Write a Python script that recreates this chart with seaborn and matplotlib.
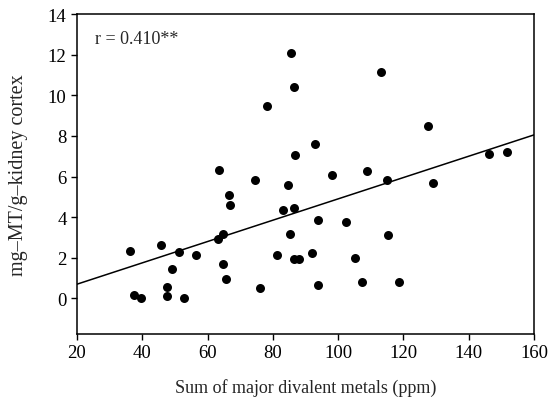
import seaborn as sns
import matplotlib
matplotlib.use("Agg")
import matplotlib.pyplot as plt
import pandas as pd

sns.set_style("ticks")
plt.rcParams['font.family'] = ['Liberation Serif', 'DejaVu Serif']

# metals (ppm) vs MT in kidney cortex
metals = [36.2, 37.6, 39.7, 45.7, 47.7, 47.5, 49.2, 51.3, 52.9, 56.4,
          63.3, 64.8, 64.8, 65.6, 66.6, 66.9, 63.4, 74.6, 76.2, 78.1,
          81.3, 83.0, 84.6, 85.6, 86.6, 86.8, 86.4, 85.4, 86.5, 88.0,
          92.1, 92.9, 93.9, 93.8, 98.1, 102.4, 105.2, 107.3, 108.8, 113.1,
          115.1, 115.4, 118.6, 127.6, 129.1, 146.1, 151.7]
mt = [2.31, 0.16, 0.03, 2.64, 0.54, 0.11, 1.46, 2.26, 0.03, 2.16,
      2.92, 3.15, 1.70, 0.97, 5.10, 4.60, 6.32, 5.83, 0.49, 9.45,
      2.16, 4.36, 5.58, 12.1, 10.42, 7.04, 4.47, 3.16, 1.95, 1.95,
      2.23, 7.58, 3.88, 0.65, 6.07, 3.76, 1.97, 0.79, 6.27, 11.17,
      5.81, 3.11, 0.82, 8.48, 5.70, 7.11, 7.19]

# regression line as drawn
fit_x = [20, 160]
fit_y = [0.70, 8.05]

xticks = [20, 40, 60, 80, 100, 120, 140, 160]
yticks = [0, 2, 4, 6, 8, 10, 12, 14]

df = pd.DataFrame({'metals': metals, 'mt': mt})

fig = plt.figure(figsize=(5.48, 4.06), dpi=100)
ax = fig.add_axes([0.1405, 0.175, 0.834, 0.788])

sns.scatterplot(data=df, x='metals', y='mt', color='black', s=42,
                edgecolor='black', linewidth=0, ax=ax, zorder=3)
ax.plot(fit_x, fit_y, color='black', lw=1.1)

ax.set_xlim(20, 160)
ax.set_ylim(-1.75, 14)
ax.set_xticks(xticks)
ax.set_yticks(yticks)
ax.tick_params(labelsize=13.5, length=4, width=1, color='black', labelcolor='black')
for s in ax.spines.values():
    s.set_color('black')
    s.set_linewidth(1.1)

ax.set_xlabel('Sum of major divalent metals (ppm)', fontsize=13, labelpad=12)
ax.set_ylabel('mg–MT/g–kidney cortex', fontsize=14.5, labelpad=14)
ax.text(25.5, 12.8, 'r = 0.410**', fontsize=13, va='center', ha='left')

fig.savefig('out.png', dpi=100)
